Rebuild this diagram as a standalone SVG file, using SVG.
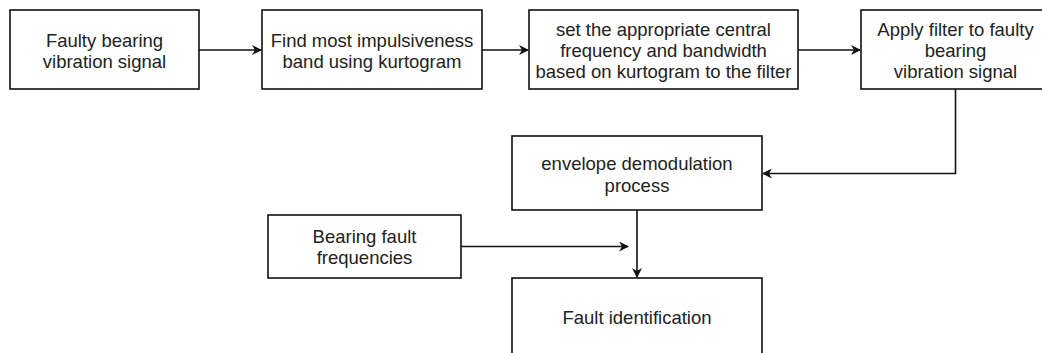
<svg xmlns="http://www.w3.org/2000/svg" width="1042" height="353" viewBox="0 0 1042 353">
<style>
.box{fill:#fff;stroke:#111;stroke-width:1.6}
.t{font-family:"Liberation Sans",Arial,sans-serif;font-size:18.5px;fill:#222;text-anchor:middle}
.c{fill:none;stroke:#111;stroke-width:1.6}
</style>
<defs>
<marker id="ah" viewBox="0 0 10 10" refX="9" refY="5" markerWidth="10" markerHeight="10" markerUnits="userSpaceOnUse" orient="auto">
<path d="M0,0 L10,5 L0,10 L3,5 Z" fill="#111"/>
</marker>
</defs>
<rect width="1042" height="353" fill="#fff"/>
<g id="connectors">
<path class="c" d="M199,50 H261" marker-end="url(#ah)"/>
<path class="c" d="M482,50 H528" marker-end="url(#ah)"/>
<path class="c" d="M798,50 H860" marker-end="url(#ah)"/>
<path class="c" d="M955.5,89 V173.5 H763" marker-end="url(#ah)"/>
<path class="c" d="M461,246.5 H628" marker-end="url(#ah)"/>
<path class="c" d="M637,210 V277" marker-end="url(#ah)"/>
</g>
<g id="n1">
<rect class="box" x="10" y="10" width="189" height="79"/>
<text class="t" x="104.5" y="47">Faulty bearing</text>
<text class="t" x="104.5" y="68">vibration signal</text>
</g>
<g id="n2">
<rect class="box" x="262" y="10" width="220" height="79"/>
<text class="t" x="372" y="47">Find most impulsiveness</text>
<text class="t" x="372" y="68">band using kurtogram</text>
</g>
<g id="n3">
<rect class="box" x="529" y="10" width="269" height="79"/>
<text class="t" x="663.5" y="36">set the appropriate central</text>
<text class="t" x="663.5" y="57">frequency and bandwidth</text>
<text class="t" x="663.5" y="78">based on kurtogram to the filter</text>
</g>
<g id="n4">
<rect class="box" x="861" y="10" width="189" height="79"/>
<text class="t" x="955.5" y="36">Apply filter to faulty</text>
<text class="t" x="955.5" y="57">bearing</text>
<text class="t" x="955.5" y="78">vibration signal</text>
</g>
<g id="n5">
<rect class="box" x="512" y="136" width="250" height="74"/>
<text class="t" x="637" y="170">envelope demodulation</text>
<text class="t" x="637" y="192">process</text>
</g>
<g id="n6">
<rect class="box" x="268" y="215" width="193" height="63"/>
<text class="t" x="364.5" y="243">Bearing fault</text>
<text class="t" x="364.5" y="264">frequencies</text>
</g>
<g id="n7">
<rect class="box" x="512" y="278" width="250" height="90"/>
<text class="t" x="637" y="324">Fault identification</text>
</g>
</svg>
